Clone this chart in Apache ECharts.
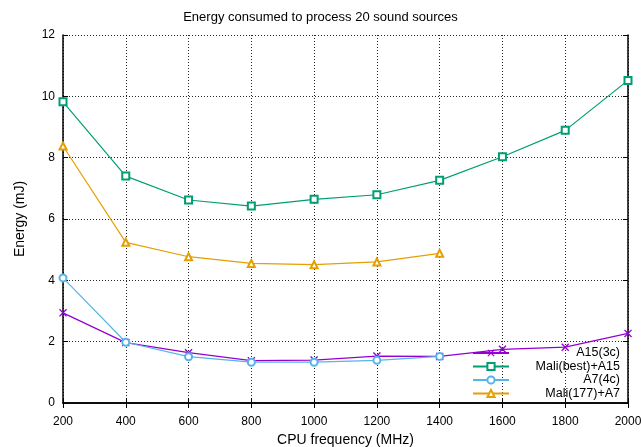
<!DOCTYPE html>
<html>
<head>
<meta charset="utf-8">
<script src="https://cdn.jsdelivr.net/npm/echarts@6/dist/echarts.min.js"></script>
<style>html,body{margin:0;padding:0;background:#fff}#c{width:641px;height:447px}</style>
</head>
<body>
<div id="c"></div>
<script>
const freqA15 = [200, 400, 600, 800, 1000, 1200, 1400, 1600, 1800, 2000];
const freqA7 = [200, 400, 600, 800, 1000, 1200, 1400];
const a15_3c = [2.94, 1.97, 1.64, 1.38, 1.40, 1.53, 1.52, 1.75, 1.82, 2.27];
const maliBestA15 = [9.82, 7.40, 6.62, 6.42, 6.64, 6.79, 7.26, 8.03, 8.89, 10.52];
const a7_4c = [4.08, 1.98, 1.51, 1.33, 1.33, 1.39, 1.52];
const mali177A7 = [8.38, 5.24, 4.77, 4.55, 4.51, 4.60, 4.88];
const seriesNames = ['A15(3c)', 'Mali(best)+A15', 'A7(4c)', 'Mali(177)+A7'];

const pair = (xs, ys) => xs.map((x, i) => [x, ys[i]]);
const font = 'Liberation Sans, Arial, Helvetica, sans-serif';
const crossPath = 'path://M0,1.2L1.2,0L5,3.8L8.8,0L10,1.2L6.2,5L10,8.8L8.8,10L5,6.2L1.2,10L0,8.8L3.8,5Z';

function mk(name, data, color, symbol, size, bw) {
  return {
    name, type: 'line', data, symbol, symbolSize: size,
    showSymbol: true,
    lineStyle: { color, width: 1.2 },
    itemStyle: { color, borderColor: color, borderWidth: bw },
    emphasis: { disabled: true },
    animation: false
  };
}

const chart = echarts.init(document.getElementById('c'), null, { renderer: 'canvas' });
const gridLine = { show: true, lineStyle: { color: '#000', type: [1, 2], width: 1, opacity: 0.85 } };
const plainNum = v => String(v);
chart.setOption({
  animation: false,
  backgroundColor: '#fff',
  title: {
    text: 'Energy consumed to process 20 sound sources',
    left: 'center', top: 6,
    textStyle: { fontFamily: font, fontSize: 13, fontWeight: 'normal', color: '#000' }
  },
  grid: { left: 63, right: 13, top: 35, bottom: 44, containLabel: false, outerBoundsMode: 'none' },
  legend: {
    orient: 'vertical', right: 21, top: 346.5, padding: 0,
    itemWidth: 36, itemHeight: 9, itemGap: 0.5,
    data: seriesNames,
    formatter: '{a|{name}}',
    textStyle: {
      fontFamily: font, fontSize: 12, color: '#000',
      rich: { a: { width: 106, align: 'right', fontFamily: font, fontSize: 12.5, lineHeight: 12 } }
    }
  },
  xAxis: [{
    type: 'value', min: 200, max: 2000, interval: 200,
    name: 'CPU frequency (MHz)', nameLocation: 'middle', nameGap: 27,
    nameTextStyle: { fontFamily: font, fontSize: 14, color: '#000' },
    axisLine: { show: true, lineStyle: { color: '#000', width: 1.5 } },
    axisTick: { show: true, inside: true, length: 5, lineStyle: { color: '#000' } },
    axisLabel: { fontFamily: font, fontSize: 12, color: '#000', margin: 13, formatter: plainNum },
    splitLine: gridLine
  }, {
    type: 'value', min: 200, max: 2000, interval: 200, position: 'top',
    axisLine: { show: true, lineStyle: { color: '#000', width: 1.5 } },
    axisTick: { show: true, inside: true, length: 5, lineStyle: { color: '#000' } },
    axisLabel: { show: false }, splitLine: { show: false }
  }],
  yAxis: [{
    type: 'value', min: 0, max: 12, interval: 2,
    name: 'Energy (mJ)', nameLocation: 'middle', nameGap: 36, nameRotate: 90,
    nameTextStyle: { fontFamily: font, fontSize: 14, color: '#000' },
    axisLine: { show: true, lineStyle: { color: '#000', width: 1.5 } },
    axisTick: { show: true, inside: true, length: 5, lineStyle: { color: '#000' } },
    axisLabel: { fontFamily: font, fontSize: 12, color: '#000', margin: 8, formatter: plainNum },
    splitLine: gridLine
  }, {
    type: 'value', min: 0, max: 12, interval: 2, position: 'right',
    axisLine: { show: true, lineStyle: { color: '#000', width: 1.5 } },
    axisTick: { show: true, inside: true, length: 5, lineStyle: { color: '#000' } },
    axisLabel: { show: false }, splitLine: { show: false }
  }],
  series: [
    mk(seriesNames[0], pair(freqA15, a15_3c), '#9400d3', crossPath, 8, 0),
    mk(seriesNames[1], pair(freqA15, maliBestA15), '#009e73', 'emptyRect', 7, 1),
    mk(seriesNames[2], pair(freqA7, a7_4c), '#56b4e9', 'emptyCircle', 7, 1),
    mk(seriesNames[3], pair(freqA7, mali177A7), '#e69f00', 'emptyTriangle', 7, 1)
  ]
});
</script>
</body>
</html>
